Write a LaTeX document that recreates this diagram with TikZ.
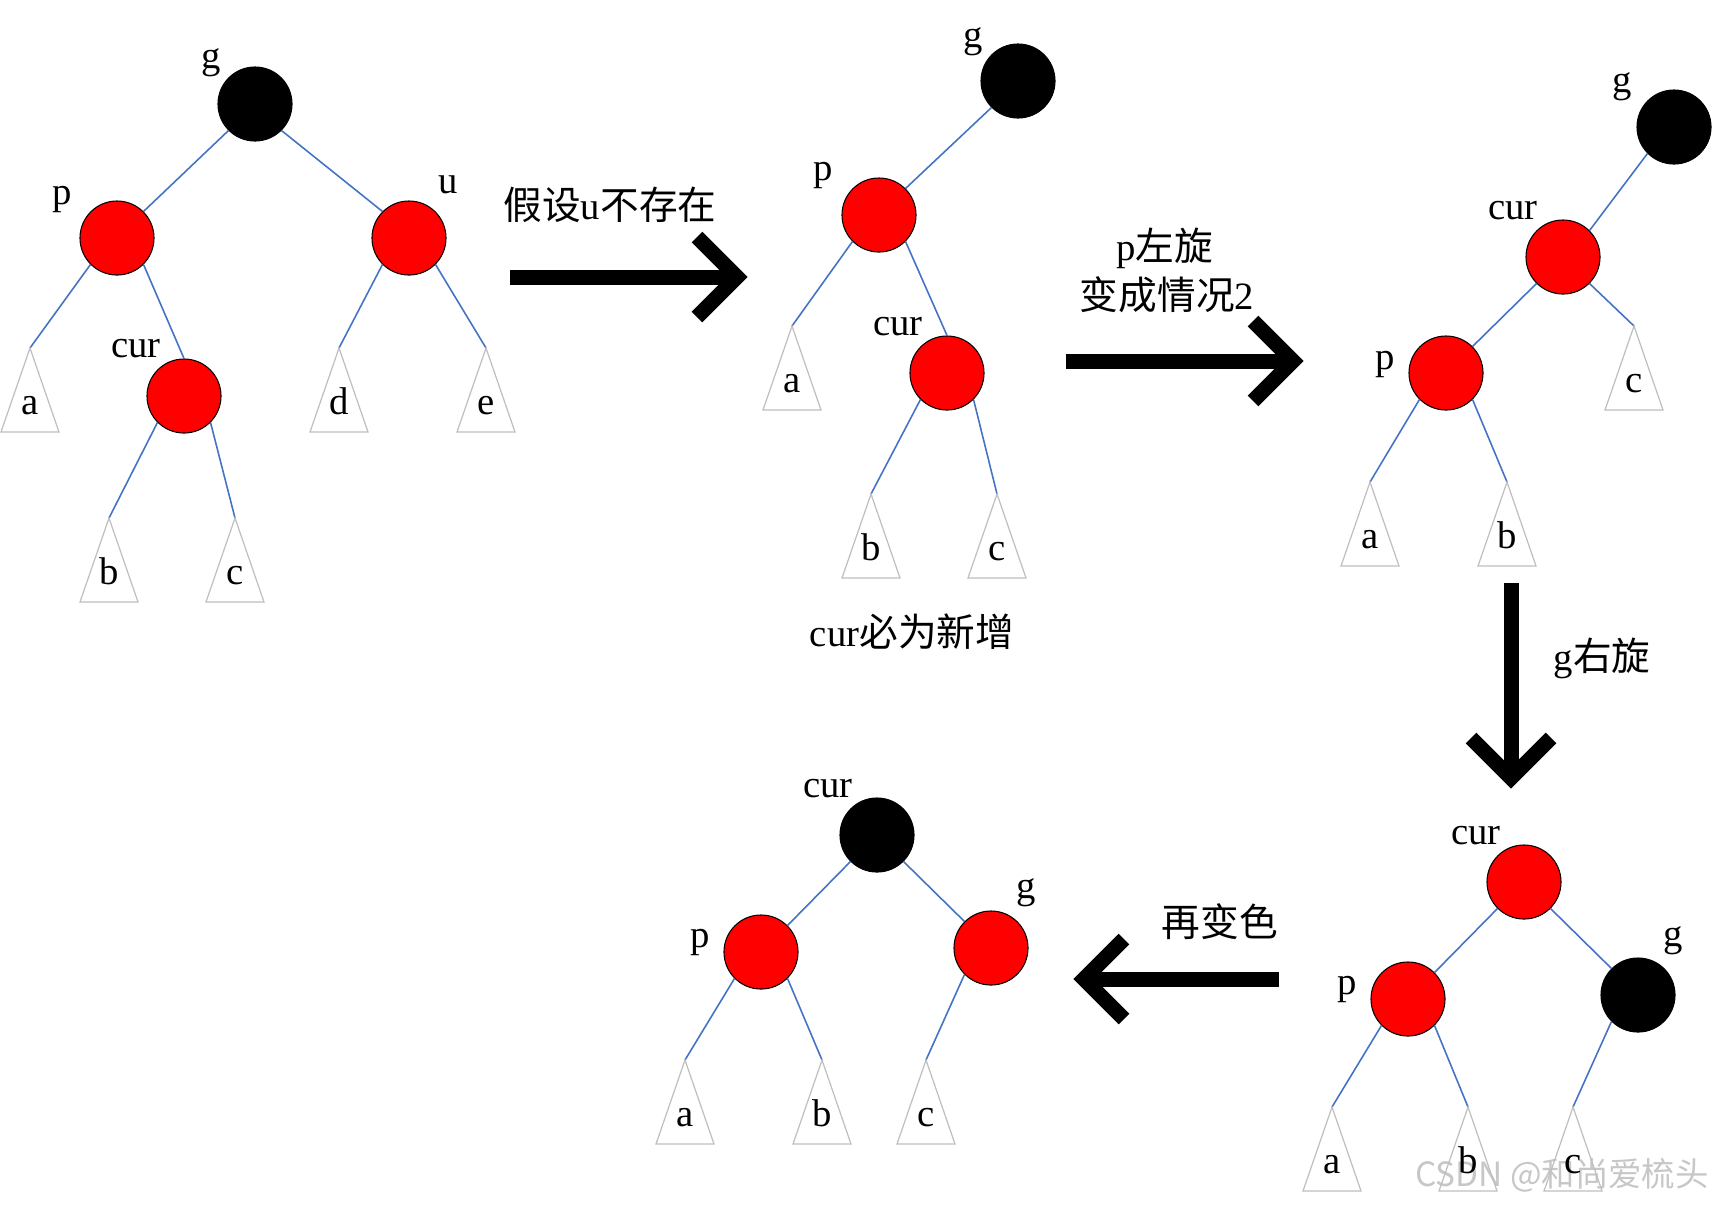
\documentclass[tikz,border=0pt]{standalone}
\usepackage{fontspec}
\setmainfont{Liberation Serif}
\newfontfamily\cjk{Noto Sans CJK SC}
\usepackage{tikz}
\usetikzlibrary{calc}
\definecolor{edgeblue}{HTML}{4472C4}
\definecolor{nodered}{HTML}{FF0000}
\definecolor{leafgray}{HTML}{BFBFBF}

\begin{document}
\begin{tikzpicture}[x=0.01cm, y=-0.01cm,
    every node/.style={font=\fontsize{11}{13}\selectfont, inner sep=0pt},
    rb/.style={circle, draw=black, line width=0.3pt, minimum size=0.74cm},
    redn/.style={rb, fill=nodered},
    blkn/.style={rb, fill=black},
    link/.style={draw=edgeblue, line width=0.45pt},
    leaf/.style={draw=leafgray, line width=0.35pt},
    bigarrow/.style={draw=black, line width=0.15cm, line join=miter},
  ]
  \useasboundingbox (0,0) rectangle (1712,1205);

  % watermark
  \node[font=\cjk\fontsize{9.5}{11}\selectfont, text=black!22] (mark) at (1562,1175) {CSDN @和尚爱梳头};

  % tree 1: cur, p, u all red
  \node[blkn] (g1) at (255,104) {};
  \node[redn] (p1) at (117,238) {};
  \node[redn] (u1) at (409,238) {};
  \node[redn] (cur1) at (184,396) {};
  \node (g1l) at (211,63) {g};
  \node (p1l) at (62,199) {p};
  \node (u1l) at (448,185) {u};
  \node (cur1l) at (136,349) {cur};
  \coordinate (t1a) at (30,348);
  \coordinate (t1b) at (109,518);
  \coordinate (t1c) at (235,518);
  \coordinate (t1d) at (339,348);
  \coordinate (t1e) at (486,348);
  \draw[link] (g1.south west) -- (p1.north east);
  \draw[link] (g1.south east) -- (u1.north west);
  \draw[link] (p1.south west) -- (t1a);
  \draw[link] (p1.south east) -- (cur1.north);
  \draw[link] (u1.south west) -- (t1d);
  \draw[link] (u1.south east) -- (t1e);
  \draw[link] (cur1.south west) -- (t1b);
  \draw[link] (cur1.south east) -- (t1c);

  % tree 2: u gone
  \node[blkn] (g2) at (1018,81) {};
  \node[redn] (p2) at (879,215) {};
  \node[redn] (cur2) at (947,373) {};
  \node (g2l) at (973,42) {g};
  \node (p2l) at (823,175) {p};
  \node (cur2l) at (898,327) {cur};
  \coordinate (t2a) at (792,326);
  \coordinate (t2b) at (871,494);
  \coordinate (t2c) at (997,494);
  \draw[link] (g2.south west) -- (p2.north east);
  \draw[link] (p2.south west) -- (t2a);
  \draw[link] (p2.south east) -- (cur2.north);
  \draw[link] (cur2.south west) -- (t2b);
  \draw[link] (cur2.south east) -- (t2c);
  \node (note) at (912,632) {cur{\cjk 必为新增}};

  % tree 3: after p left rotation
  \node[blkn] (g3) at (1674,127) {};
  \node[redn] (cur3) at (1563,257) {};
  \node[redn] (p3) at (1446,373) {};
  \node (g3l) at (1622,87) {g};
  \node (cur3l) at (1513,211) {cur};
  \node (p3l) at (1385,364) {p};
  \coordinate (t3a) at (1370,482);
  \coordinate (t3b) at (1507,482);
  \coordinate (t3c) at (1634,326);
  \draw[link] (g3.south west) -- (cur3.north east);
  \draw[link] (cur3.south west) -- (p3.north east);
  \draw[link] (cur3.south east) -- (t3c);
  \draw[link] (p3.south west) -- (t3a);
  \draw[link] (p3.south east) -- (t3b);

  % tree 4: after g right rotation
  \node[redn] (cur4) at (1524,882) {};
  \node[redn] (p4) at (1408,999) {};
  \node[blkn] (g4) at (1638,995) {};
  \node (cur4l) at (1476,836) {cur};
  \node (p4l) at (1347,989) {p};
  \node (g4l) at (1673,941) {g};
  \coordinate (t4a) at (1332,1107);
  \coordinate (t4b) at (1468,1107);
  \coordinate (t4c) at (1573,1107);
  \draw[link] (cur4.south west) -- (p4.north east);
  \draw[link] (cur4.south east) -- (g4.north west);
  \draw[link] (p4.south west) -- (t4a);
  \draw[link] (p4.south east) -- (t4b);
  \draw[link] (g4.south west) -- (t4c);

  % tree 5: recoloured
  \node[blkn] (cur5) at (877,835) {};
  \node[redn] (p5) at (761,952) {};
  \node[redn] (g5) at (991,948) {};
  \node (cur5l) at (828,789) {cur};
  \node (p5l) at (700,942) {p};
  \node (g5l) at (1026,893) {g};
  \coordinate (t5a) at (685,1060);
  \coordinate (t5b) at (822,1060);
  \coordinate (t5c) at (926,1060);
  \draw[link] (cur5.south west) -- (p5.north east);
  \draw[link] (cur5.south east) -- (g5.north west);
  \draw[link] (p5.south west) -- (t5a);
  \draw[link] (p5.south east) -- (t5b);
  \draw[link] (g5.south west) -- (t5c);

  % subtrees
  \foreach \apex/\lbl in {t1a/a, t1b/b, t1c/c, t1d/d, t1e/e, t2a/a, t2b/b, t2c/c,
                          t3a/a, t3b/b, t3c/c, t4a/a, t4b/b, t4c/c, t5a/a, t5b/b, t5c/c} {
    \draw[leaf] (\apex) -- ++(-29,84) -- ++(58,0) -- cycle;
    \node[anchor=base] (\apex-txt) at ($(\apex)+(0,66)$) {\lbl};
  }

  % big arrows
  \coordinate (s1) at (510,277);
  \coordinate (h1) at (737,277);
  \draw[bigarrow] (s1) -- (h1);
  \draw[bigarrow] ($(h1)+(-40,-40)$) -- (h1) -- ($(h1)+(-40,40)$);
  \node (lab1) at (610,205) {{\cjk 假设}u{\cjk 不存在}};

  \coordinate (s2) at (1066,361);
  \coordinate (h2) at (1293,361);
  \draw[bigarrow] (s2) -- (h2);
  \draw[bigarrow] ($(h2)+(-40,-40)$) -- (h2) -- ($(h2)+(-40,40)$);
  \node (lab2a) at (1165,248) {p{\cjk 左旋}};
  \node (lab2b) at (1167,295) {{\cjk 变成情况}2};

  \coordinate (s3) at (1511,583);
  \coordinate (h3) at (1511,778);
  \draw[bigarrow] (s3) -- (h3);
  \draw[bigarrow] ($(h3)+(-40,-40)$) -- (h3) -- ($(h3)+(40,-40)$);
  \node (lab3) at (1602,658) {g{\cjk 右旋}};

  \coordinate (s4) at (1279,979);
  \coordinate (h4) at (1084,979);
  \draw[bigarrow] (s4) -- (h4);
  \draw[bigarrow] ($(h4)+(40,-40)$) -- (h4) -- ($(h4)+(40,40)$);
  \node (lab4) at (1220,922) {\cjk 再变色};
\end{tikzpicture}
\end{document}
